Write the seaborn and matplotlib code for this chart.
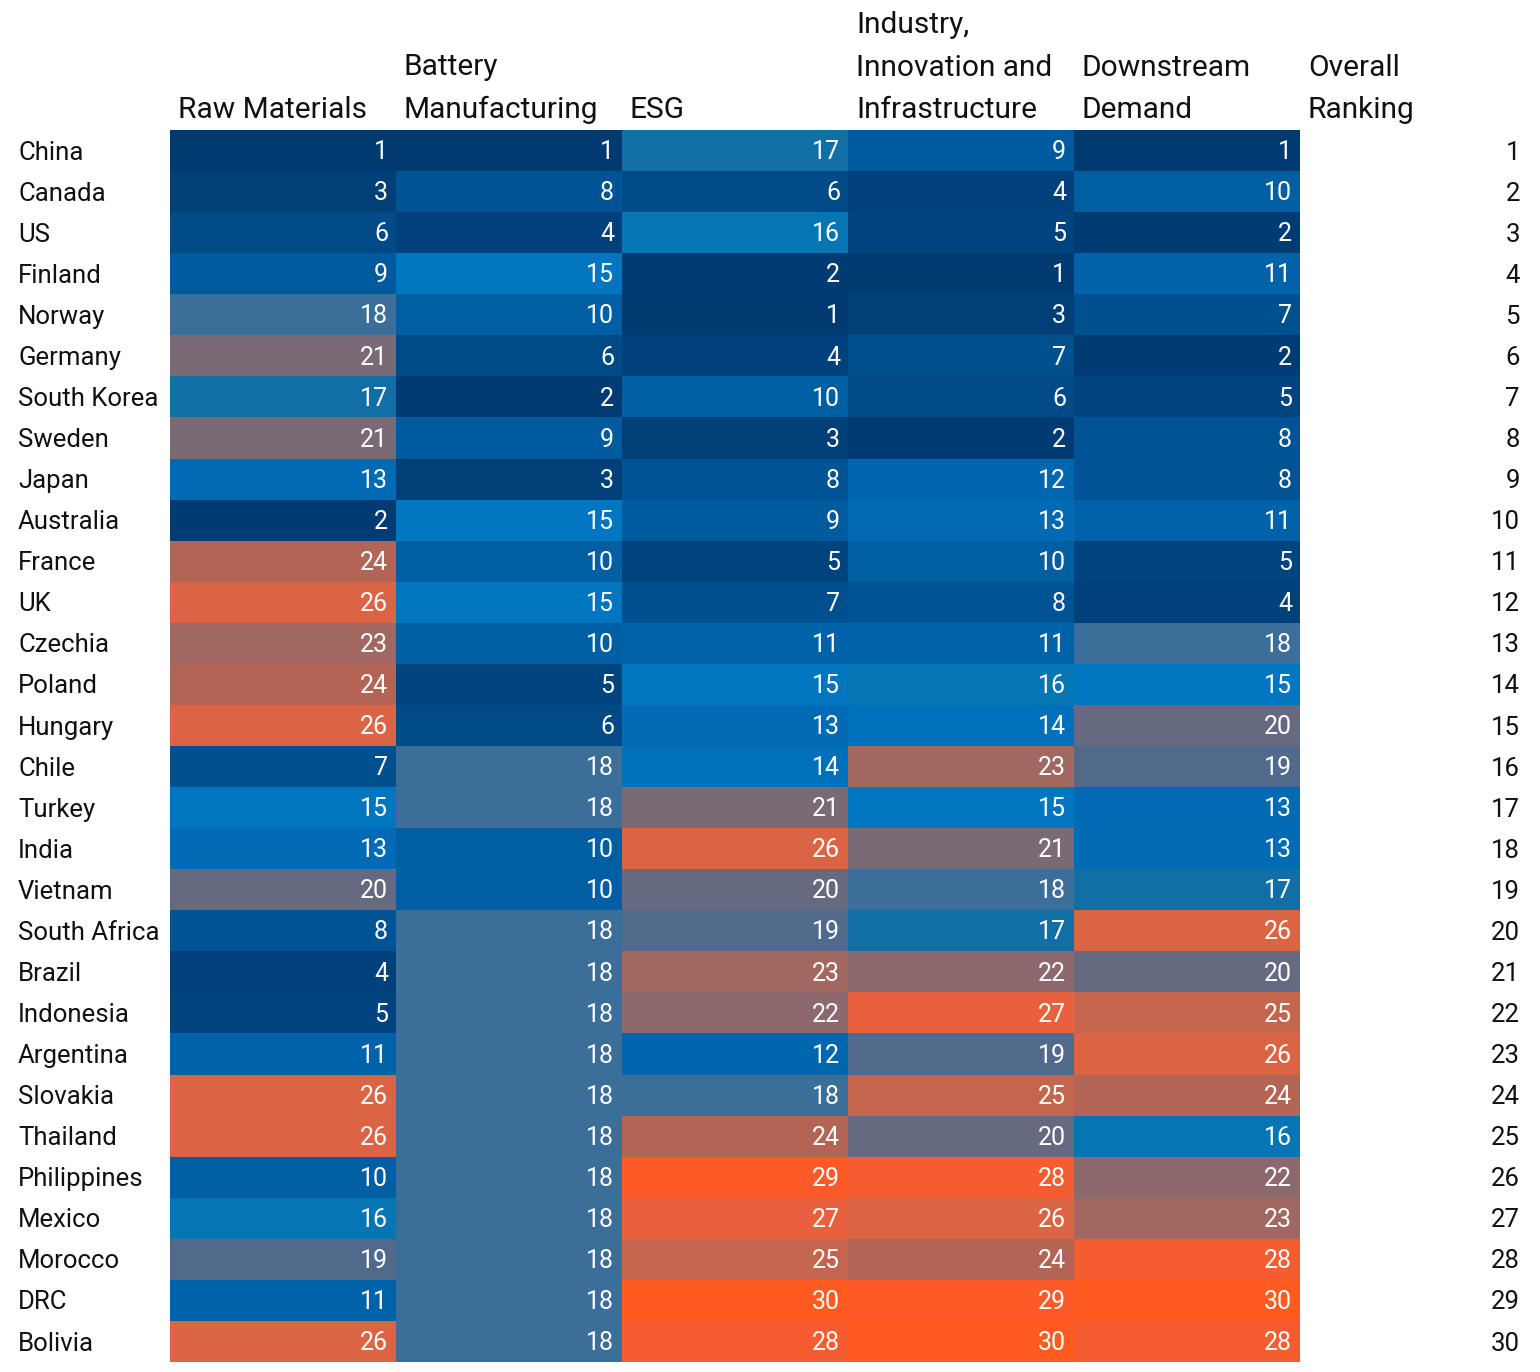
import numpy as np
import pandas as pd
import matplotlib
matplotlib.use("Agg")
import matplotlib.pyplot as plt
from matplotlib.colors import LinearSegmentedColormap
import seaborn as sns

countries = ["China", "Canada", "US", "Finland", "Norway", "Germany", "South Korea",
             "Sweden", "Japan", "Australia", "France", "UK", "Czechia", "Poland",
             "Hungary", "Chile", "Turkey", "India", "Vietnam", "South Africa",
             "Brazil", "Indonesia", "Argentina", "Slovakia", "Thailand",
             "Philippines", "Mexico", "Morocco", "DRC", "Bolivia"]

headers = ["Raw Materials", "Battery\nManufacturing", "ESG",
           "Industry,\nInnovation and\nInfrastructure", "Downstream\nDemand"]

raw_materials = [1, 3, 6, 9, 18, 21, 17, 21, 13, 2, 24, 26, 23, 24, 26,
                 7, 15, 13, 20, 8, 4, 5, 11, 26, 26, 10, 16, 19, 11, 26]
battery = [1, 8, 4, 15, 10, 6, 2, 9, 3, 15, 10, 15, 10, 5, 6,
           18, 18, 10, 10, 18, 18, 18, 18, 18, 18, 18, 18, 18, 18, 18]
esg = [17, 6, 16, 2, 1, 4, 10, 3, 8, 9, 5, 7, 11, 15, 13,
       14, 21, 26, 20, 19, 23, 22, 12, 18, 24, 29, 27, 25, 30, 28]
industry = [9, 4, 5, 1, 3, 7, 6, 2, 12, 13, 10, 8, 11, 16, 14,
            23, 15, 21, 18, 17, 22, 27, 19, 25, 20, 28, 26, 24, 29, 30]
downstream = [1, 10, 2, 11, 7, 2, 5, 8, 8, 11, 5, 4, 18, 15, 20,
              19, 13, 13, 17, 26, 20, 25, 26, 24, 16, 22, 23, 28, 30, 28]
overall = list(range(1, 31))

df = pd.DataFrame({h: v for h, v in zip(headers, [raw_materials, battery, esg,
                                                   industry, downstream])},
                  index=countries)

plt.rcParams["font.family"] = ["Roboto", "DejaVu Sans"]

# colour scale: navy -> bright blue -> grey/mauve -> orange
anchors = [(1, "#003a70"), (5, "#00447f"), (9, "#005a9e"), (13, "#006bb4"),
           (15, "#0075c0"), (16, "#0575b4"), (17, "#0f6fa6"), (18, "#3a6e9a"),
           (19, "#526a8c"), (20, "#666a80"), (21, "#7a6a76"), (22, "#8c686c"),
           (23, "#a06862"), (24, "#b06456"), (25, "#c4664e"), (26, "#da6444"),
           (27, "#e8603c"), (28, "#f55d32"), (29, "#fc5b28"), (30, "#ff5a1f")]
cmap = LinearSegmentedColormap.from_list(
    "rank", [((v - 1) / 29, c) for v, c in anchors])

W, H = 1540, 1372
fig = plt.figure(figsize=(W / 100, H / 100), dpi=100)
ax = fig.add_axes([170 / W, 1 - 1362 / H, 1130 / W, 1232 / H])

sns.heatmap(df, ax=ax, cmap=cmap, vmin=1, vmax=30, cbar=False, annot=True,
            fmt="d", annot_kws={"color": "white", "fontsize": 18},
            linewidths=0, xticklabels=False, yticklabels=False)

# numbers right-aligned in each cell
for t in ax.texts:
    x, y = t.get_position()
    t.set_position((x + 0.5 - 0.035, y + 0.04))
    t.set_ha("right")

ax.set_xlabel("")
ax.set_ylabel("")
ax.tick_params(length=0)

for i, c in enumerate(countries):
    ax.text(-152 / 226, i + 0.55, c, ha="left", va="center", fontsize=18.5,
            color="#111111")
    ax.text(5 + 220 / 226, i + 0.55, str(overall[i]), ha="right", va="center",
            fontsize=18.5, color="#111111")

for j, h in enumerate(headers + ["Overall\nRanking"]):
    ax.text(j + 8 / 226, -0.15, h, ha="left", va="bottom", fontsize=21.5,
            linespacing=1.65, color="#111111")

for s in ax.spines.values():
    s.set_visible(False)

fig.savefig("out.png", dpi=100)
